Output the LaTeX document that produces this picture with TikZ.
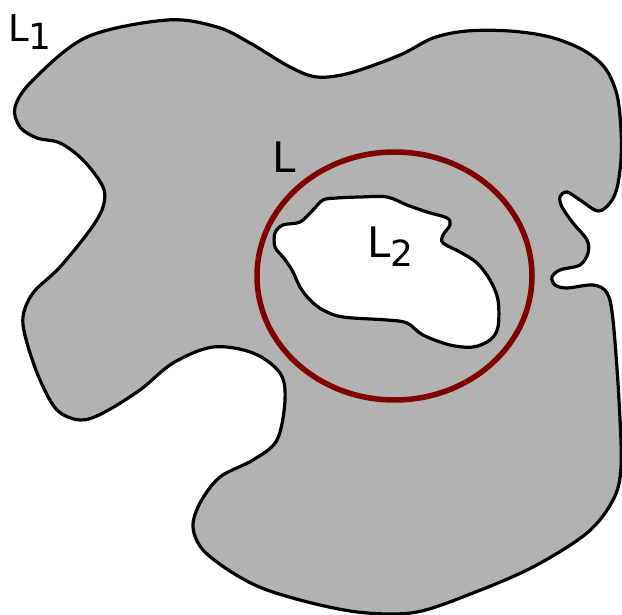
\documentclass[tikz,border=0pt]{standalone}
\usepackage{fontspec}
\setmainfont{DejaVu Sans}
\newcommand\lsub[1]{\raisebox{-0.2em}{\fontsize{36}{36}\selectfont #1}}
\begin{document}
\begin{tikzpicture}[x=1pt,y=-1pt]
  \useasboundingbox (0,0) rectangle (622,615);
  % region with hole
  \draw[line width=3.2pt, fill=black!30, even odd rule]
    plot[smooth cycle, tension=0.55] coordinates {
      (167,20) (217,27) (250,43) (290,67) (317,77) (350,73) (400,55)
      (433,38) (467,31) (510,31) (550,37) (583,50) (605,68) (617,95)
      (621,130) (621,160) (617,188)
      (610,203) (598,211) (580,200) (567,192) (560,197) (562,207)
      (573,223) (587,240) (588,253) (580,265) (560,270) (552,277)
      (555,285) (567,288) (593,285) (607,293) (613,320) (619,400)
      (621,467) (613,500) (587,533) (533,567) (473,593) (417,612)
      (367,613) (320,605) (267,590) (233,573) (203,550) (193,527)
      (200,503) (220,477) (253,460) (277,440) (285,400) (280,373)
      (253,353) (213,347) (173,363) (140,390) (103,413) (80,420)
      (57,410) (40,380) (27,343) (23,317) (33,293) (60,267) (90,230)
      (103,207) (103,187) (83,160) (60,143) (37,138) (20,127) (15,107)
      (33,80) (87,37)}
    plot[smooth cycle, tension=0.55] coordinates {
      (275,247) (275,233) (283,225) (300,222) (313,210) (323,200)
      (337,198) (360,197) (387,197) (407,205) (427,212) (447,218)
      (450,225) (443,235) (443,243) (460,252) (477,263) (490,280)
      (498,300) (498,327) (490,340) (473,347) (450,345) (423,335)
      (407,323) (387,320) (343,317) (323,310) (310,300) (300,287)
      (292,270) (283,257)};
  % curve L
  \draw[line width=5.5pt, color={rgb,255:red,128;green,0;blue,0}]
    (394.5,276) ellipse [x radius=137.5, y radius=124];
  \node[anchor=base west, inner sep=0pt, font=\fontsize{37}{40}\selectfont]
    (l1) at (8,42) {L\lsub{1}};
  \node[anchor=base west, inner sep=0pt, font=\fontsize{42}{46}\selectfont]
    (l) at (272,173) {L};
  \node[anchor=base west, inner sep=0pt, font=\fontsize{42}{46}\selectfont]
    (l2) at (367,258) {L\lsub{2}};
\end{tikzpicture}
\end{document}
